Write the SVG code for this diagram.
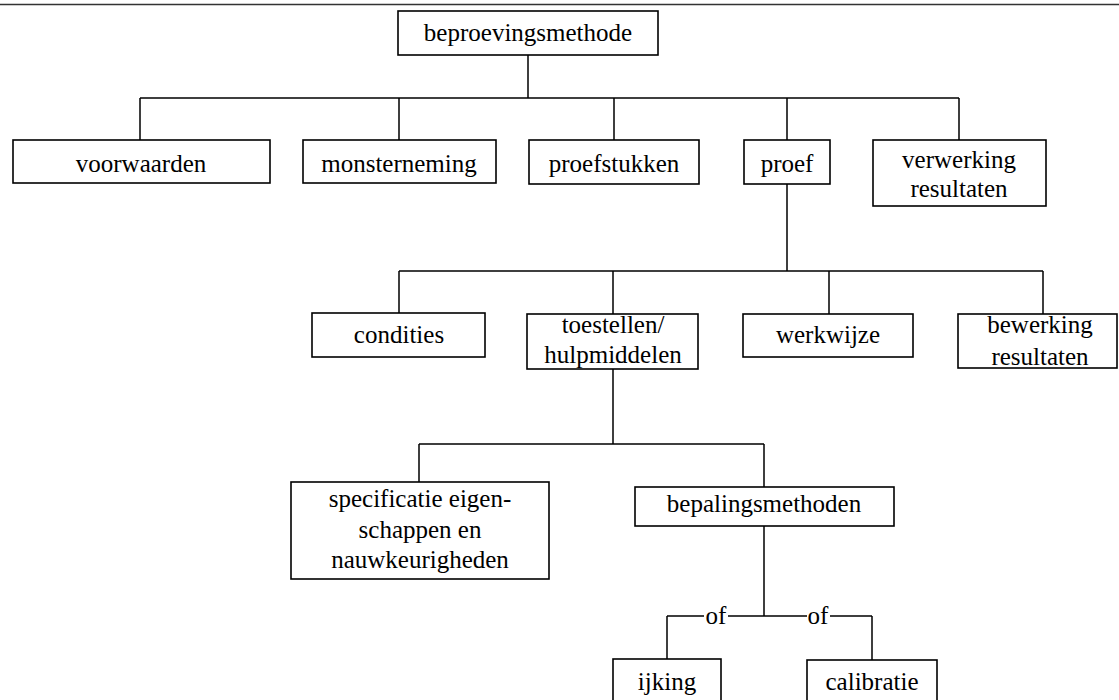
<svg xmlns="http://www.w3.org/2000/svg" width="1119" height="700" viewBox="0 0 1119 700">
<style>
.box{fill:#fff;stroke:#000;stroke-width:1.6}
.c path{stroke:#000;stroke-width:1.5;fill:none}
.t{font-size:25px;fill:#000;text-anchor:middle}
</style>
<rect width="1119" height="700" fill="#fff"/>
<line x1="0" y1="4.5" x2="1119" y2="4.5" stroke="#333" stroke-width="1.5"/>
<g font-family="'Liberation Serif', 'DejaVu Serif', serif">
<g class="c" id="connectors">
<path d="M528,55 V98 M140,98 H959 M140,98 V140 M399,98 V140 M614,98 V140 M787,98 V140 M959,98 V140"/>
<path d="M787,184 V271 M399,271 H1043 M399,271 V313 M613,271 V314 M829,271 V314 M1043,271 V314"/>
<path d="M613,369 V444 M419,444 H764 M419,444 V482 M764,444 V487"/>
<path d="M764,526 V616 M667,616 H704 M728,616 H807 M830,616 H872 M667,616 V659 M872,616 V660"/>
<text class="t" x="716" y="624">of</text>
<text class="t" x="818" y="624">of</text>
</g>
<g id="beproevingsmethode"><rect class="box" x="398" y="11" width="260" height="44"/><text class="t" x="528" y="41">beproevingsmethode</text></g>
<g id="voorwaarden"><rect class="box" x="13" y="140" width="257" height="43"/><text class="t" x="141" y="172">voorwaarden</text></g>
<g id="monsterneming"><rect class="box" x="303" y="140" width="193" height="43"/><text class="t" x="399" y="172">monsterneming</text></g>
<g id="proefstukken"><rect class="box" x="529" y="140" width="170" height="44"/><text class="t" x="614" y="172">proefstukken</text></g>
<g id="proef"><rect class="box" x="744" y="140" width="86" height="44"/><text class="t" x="787" y="172">proef</text></g>
<g id="verwerking"><rect class="box" x="873" y="140" width="173" height="66"/><text class="t" x="959" y="168">verwerking</text><text class="t" x="959" y="197">resultaten</text></g>
<g id="condities"><rect class="box" x="312" y="313" width="173" height="44"/><text class="t" x="399" y="343">condities</text></g>
<g id="toestellen"><rect class="box" x="527" y="314" width="171" height="55"/><text class="t" x="613" y="333">toestellen/</text><text class="t" x="613" y="363">hulpmiddelen</text></g>
<g id="werkwijze"><rect class="box" x="743" y="314" width="170" height="43"/><text class="t" x="828" y="343">werkwijze</text></g>
<g id="bewerking"><rect class="box" x="958" y="314" width="159" height="54"/><text class="t" x="1040" y="333">bewerking</text><text class="t" x="1040" y="365">resultaten</text></g>
<g id="specificatie"><rect class="box" x="291" y="482" width="258" height="97"/><text class="t" x="420" y="507">specificatie eigen-</text><text class="t" x="420" y="538">schappen en</text><text class="t" x="420" y="568">nauwkeurigheden</text></g>
<g id="bepalingsmethoden"><rect class="box" x="635" y="487" width="259" height="39"/><text class="t" x="764" y="512">bepalingsmethoden</text></g>
<g id="ijking"><rect class="box" x="613" y="659" width="108" height="60"/><text class="t" x="667" y="690">ijking</text></g>
<g id="calibratie"><rect class="box" x="807" y="660" width="130" height="60"/><text class="t" x="872" y="690">calibratie</text></g>
</g>
</svg>
